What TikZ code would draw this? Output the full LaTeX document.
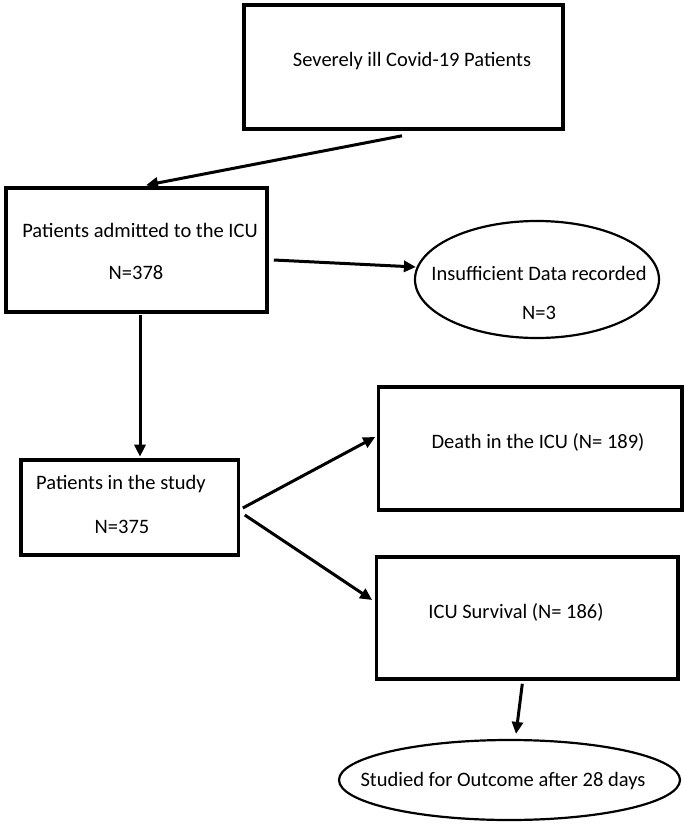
\documentclass[tikz,border=0pt]{standalone}
\usepackage{fontspec}
\setmainfont{Carlito}
\usetikzlibrary{shapes.geometric,arrows.meta,calc}
\begin{document}
\begin{tikzpicture}[x=1pt,y=-1pt,
  box/.style={draw=black,line width=3.6pt,rectangle,inner sep=0pt},
  oval/.style={draw=black,line width=2.2pt,ellipse,inner sep=0pt},
  lbl/.style={inner sep=0pt,font=\fontsize{20.5}{24}\selectfont},
  arr/.style={draw=black,line width=3pt,-{Triangle[length=12pt,width=11pt]}}]
\useasboundingbox (0,0) rectangle (685,828);
\fill[white] (0,0) rectangle (685,828);
% boxes
\node[box,minimum width=319pt,minimum height=124pt] (b1) at (403.5,67) {};
\node[box,minimum width=261pt,minimum height=124pt] (b2) at (136.5,250) {};
\node[oval,minimum width=244pt,minimum height=117pt] (e1) at (537,279.5) {};
\node[box,minimum width=217.5pt,minimum height=95pt] (b3) at (129.75,507.5) {};
\node[box,minimum width=303.4pt,minimum height=123pt] (bd) at (530.3,448.5) {};
\node[box,minimum width=301.3pt,minimum height=122pt] (bs) at (527.3,618) {};
\node[oval,minimum width=341pt,minimum height=80pt] (e2) at (509.5,780) {};
% labels
\node[lbl] (t1) at (412,61) {Severely ill Covid-19 Patients};
\node[lbl] (t2a) at (140,230) {Patients admitted to the ICU};
\node[lbl] (t2b) at (136,273) {N=378};
\node[lbl] (t3a) at (539,273) {Insufficient Data recorded};
\node[lbl] (t3b) at (539,313) {N=3};
\node[lbl] (t4a) at (121,484) {Patients in the study};
\node[lbl] (t4b) at (122,527) {N=375};
\node[lbl] (t5) at (538,442) {Death in the ICU (N= 189)};
\node[lbl] (t6) at (516,612) {ICU Survival (N= 186)};
\node[lbl] (t7) at (503,781) {Studied for Outcome after 28 days};
% connectors
\draw[arr] ($(b1.south)+(-1.5,5)$) -- ($(b2.north)+(9.5,-1)$);
\draw[arr] ($(b2.east)+(5,10)$) -- ($(e1.west)+(2,-12.5)$);
\draw[arr] ($(b2.south)+(3.5,1.5)$) -- ($(b3.north)+(10.25,-1.5)$);
\draw[arr] ($(b3.east)+(2.5,0.5)$) -- ($(bd.west)+(-1.6,-11.5)$);
\draw[arr] ($(b3.east)+(4.5,7.5)$) -- ($(bs.west)+(-2.7,-18)$);
\draw[arr] ($(bs.south)+(-5,3)$) -- ($(e2.north)+(6.5,-5)$);
\end{tikzpicture}
\end{document}
